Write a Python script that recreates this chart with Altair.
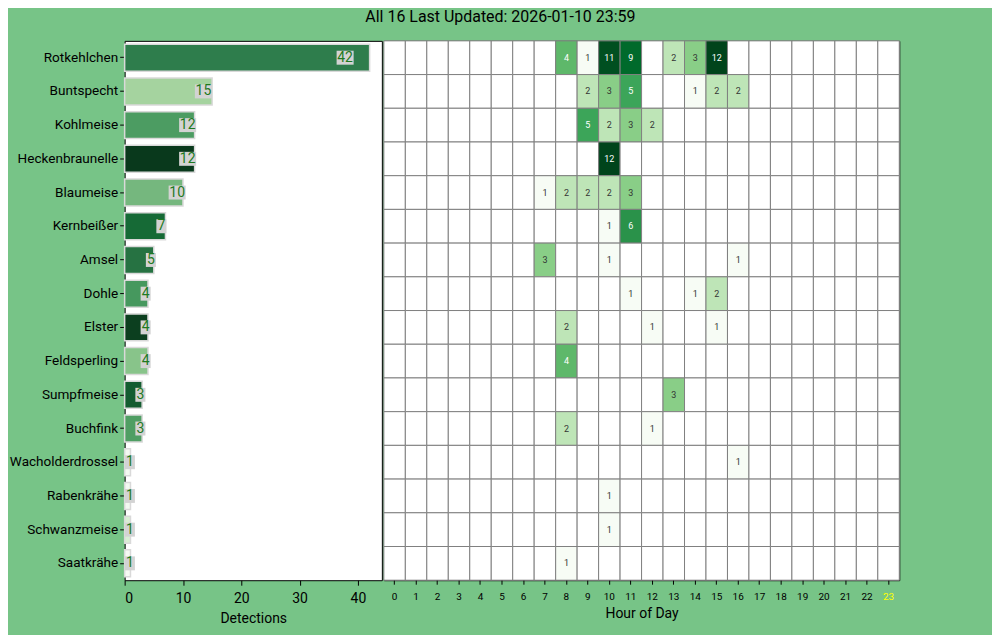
import itertools
import altair as alt
import pandas as pd

# ---------------- data ----------------
species = ["Rotkehlchen", "Buntspecht", "Kohlmeise", "Heckenbraunelle", "Blaumeise",
           "Kernbeißer", "Amsel", "Dohle", "Elster", "Feldsperling", "Sumpfmeise",
           "Buchfink", "Wacholderdrossel", "Rabenkrähe", "Schwanzmeise", "Saatkrähe"]
totals = [42, 15, 12, 12, 10, 7, 5, 4, 4, 4, 3, 3, 1, 1, 1, 1]
bar_colors = ["#2e7d4c", "#a5d39f", "#4c9c62", "#09391c", "#75b77e", "#166a36",
              "#267242", "#46985e", "#0c3f1f", "#88c48a", "#135c30", "#4f9e63",
              "#f3f9f1", "#f3f9f1", "#d9eed4", "#f5faf3"]

cell_species = (["Rotkehlchen"] * 7 + ["Buntspecht"] * 6 + ["Kohlmeise"] * 4 +
                ["Heckenbraunelle"] + ["Blaumeise"] * 5 + ["Kernbeißer"] * 2 +
                ["Amsel"] * 3 + ["Dohle"] * 3 + ["Elster"] * 3 + ["Feldsperling"] +
                ["Sumpfmeise"] + ["Buchfink"] * 2 + ["Wacholderdrossel"] +
                ["Rabenkrähe"] + ["Schwanzmeise"] + ["Saatkrähe"])
cell_hours = [8, 9, 10, 11, 13, 14, 15,
              9, 10, 11, 14, 15, 16,
              9, 10, 11, 12,
              10,
              7, 8, 9, 10, 11,
              10, 11,
              7, 10, 16,
              11, 14, 15,
              8, 12, 15,
              8,
              13,
              8, 12,
              16,
              10,
              10,
              8]
cell_counts = [4, 1, 11, 9, 2, 3, 12,
               2, 3, 5, 1, 2, 2,
               5, 2, 3, 2,
               12,
               1, 2, 2, 2, 3,
               1, 6,
               3, 1, 1,
               1, 1, 2,
               2, 1, 1,
               4,
               3,
               2, 1,
               1,
               1,
               1,
               1]
hours = list(range(24))
title_text = "All 16 Last Updated: 2026-01-10 23:59"
current_hour = 23

# matplotlib-style "Greens" ramp used on a log scale from 1 to 12
greens = ["#f7fcf5", "#e5f5e0", "#c7e9c0", "#a1d99b", "#74c476",
          "#41ab5d", "#238b45", "#006d2c", "#00441b"]
cmax = 12
log_stops = [cmax ** (i / (len(greens) - 1)) for i in range(len(greens))]

# ---------------- tables ----------------
bars_df = pd.DataFrame({"species": species, "total": totals})
cells = pd.DataFrame({"species": cell_species, "hour": cell_hours, "n": cell_counts})
grid = pd.DataFrame(list(itertools.product(species, hours)), columns=["species", "hour"])
grid = grid.merge(cells, on=["species", "hour"], how="left").fillna({"n": 0})
grid["n"] = grid["n"].astype(int)

FONT = "Roboto"
BG = "#77C487"

y_left = alt.Y("species:N", sort=species,
               scale=alt.Scale(paddingInner=0.2, paddingOuter=0.1),
               axis=alt.Axis(title=None, labelFontSize=13.6, labelColor="black",
                             tickColor="black", tickSize=5, labelPadding=2,
                             domain=False, labelFont=FONT))
x_left = alt.X("total:Q", scale=alt.Scale(domain=[0, 44.1], nice=False),
               axis=alt.Axis(title="Detections", values=[0, 10, 20, 30, 40],
                             labelFontSize=14, titleFontSize=14, titleFontWeight="normal",
                             labelColor="black", titleColor="black", tickColor="black",
                             tickSize=5, domain=False, grid=False, labelFont=FONT,
                             titleFont=FONT, titlePadding=6, labelPadding=6))

base_left = alt.Chart(bars_df)
bars = base_left.mark_bar(stroke="#d9d9d9", strokeWidth=1.5).encode(
    y=y_left, x=x_left,
    color=alt.Color("species:N", scale=alt.Scale(domain=species, range=bar_colors), legend=None),
)
box_small = "M-0.72,-1H0.72V1H-0.72Z"
box_wide = "M-1.22,-1H1.22V1H-1.22Z"
label_base = base_left.transform_calculate(
    lx="0.9*datum.total", nd="length(toString(datum.total))"
)
boxes = label_base.mark_point(filled=True, size=196, color="#d3d3d3", opacity=1, strokeWidth=0).encode(
    y=alt.Y("species:N", sort=species),
    x=alt.X("lx:Q"),
    shape=alt.Shape("nd:O", scale=alt.Scale(domain=[1, 2], range=[box_small, box_wide]), legend=None),
)
labels = label_base.mark_text(fontSize=14, color="#1f7a1f", align="center", baseline="middle",
                              font=FONT).encode(
    y=alt.Y("species:N", sort=species),
    x=alt.X("lx:Q"),
    text=alt.Text("total:Q"),
)
left = alt.layer(bars, boxes, labels).properties(width=258, height=541)

# heatmap
y_right = alt.Y("species:N", sort=species, scale=alt.Scale(paddingInner=0, paddingOuter=0), axis=None)
x_right = alt.X("hour:O", scale=alt.Scale(domain=hours, paddingInner=0, paddingOuter=0),
                axis=alt.Axis(title="Hour of Day", labelAngle=0, labelFontSize=10,
                              titleFontSize=14, titleFontWeight="normal", titleColor="black",
                              labelColor=alt.expr(f"datum.value == {current_hour} ? 'yellow' : 'black'"),
                              tickColor="black", tickSize=4, domain=False, labelFont=FONT,
                              titleFont=FONT, titlePadding=5, labelPadding=7))
base_r = alt.Chart(grid)
rects = base_r.mark_rect(stroke="#808080", strokeWidth=1).encode(
    x=x_right, y=y_right,
    color=alt.condition("datum.n > 0",
                        alt.Color("n:Q", scale=alt.Scale(type="log", domain=log_stops, range=greens),
                                  legend=None),
                        alt.value("white")),
)
nums = base_r.transform_filter("datum.n > 0").mark_text(fontSize=9, font=FONT, baseline="middle").encode(
    x=x_right, y=y_right,
    text=alt.Text("n:Q"),
    color=alt.condition("datum.n >= 4", alt.value("white"), alt.value("#333333")),
)
right = alt.layer(rects, nums).properties(width=517, height=541)

chart = alt.hconcat(left, right, spacing=0).properties(
    title=alt.TitleParams(title_text, fontSize=16, font=FONT, fontWeight="normal", color="black",
                          anchor="middle", frame="bounds", offset=13, dx=46, dy=-2),
    padding={"left": 0, "top": 0, "right": 92, "bottom": 8},
    background=BG,
).configure_view(stroke="black", strokeWidth=1, fill="white").configure_concat(spacing=0)

chart.save("out.html", embed_options={"renderer": "svg", "actions": False})
